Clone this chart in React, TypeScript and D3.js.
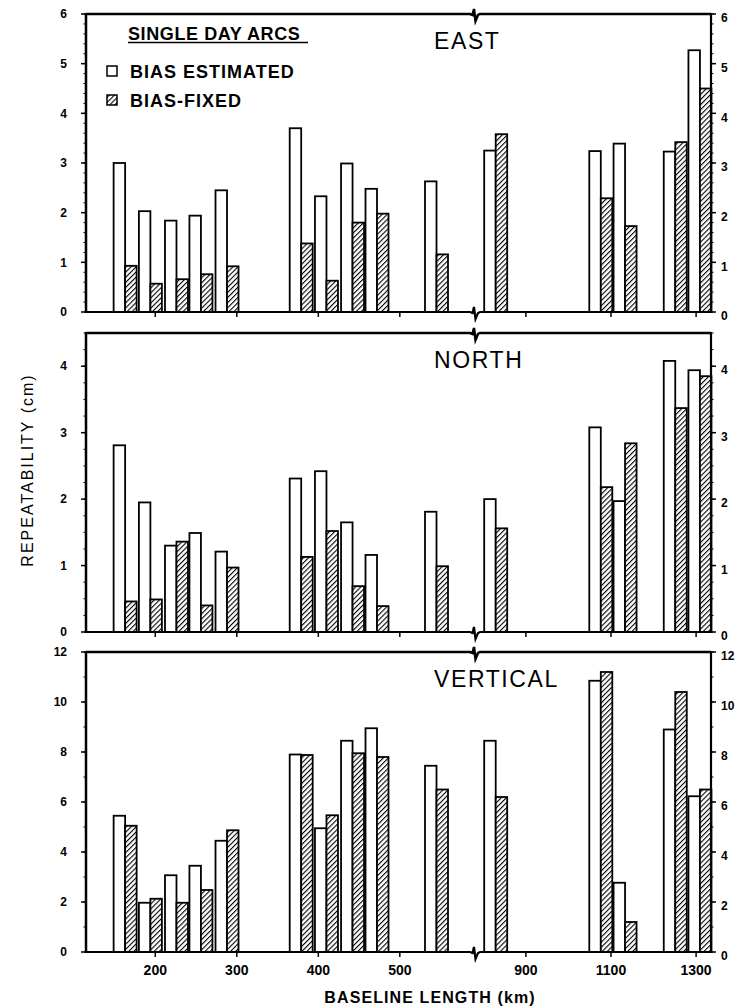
import React from 'react'
import * as d3 from 'd3'

// baseline length of each station pair (km)
const baselineKm = [163, 194, 226, 256, 288, 379, 410, 442, 472, 545, 829, 1076, 1133, 1251, 1309]

const eastEstimated = [3.0, 2.03, 1.84, 1.94, 2.45, 3.7, 2.33, 2.99, 2.48, 2.63, 3.25, 3.24, 3.39, 3.23, 5.27]
const eastFixed = [0.93, 0.57, 0.66, 0.76, 0.92, 1.38, 0.63, 1.8, 1.98, 1.16, 3.58, 2.29, 1.73, 3.42, 4.5]

const northEstimated = [2.81, 1.95, 1.3, 1.49, 1.21, 2.31, 2.42, 1.65, 1.16, 1.81, 2.0, 3.08, 1.97, 4.08, 3.94]
const northFixed = [0.46, 0.49, 1.36, 0.4, 0.97, 1.13, 1.52, 0.69, 0.39, 0.99, 1.56, 2.18, 2.84, 3.37, 3.85]

const verticalEstimated = [5.45, 1.97, 3.07, 3.45, 4.45, 7.9, 4.95, 8.45, 8.95, 7.45, 8.45, 10.85, 2.77, 8.9, 6.23]
const verticalFixed = [5.05, 2.13, 1.97, 2.48, 4.87, 7.88, 5.47, 7.95, 7.8, 6.5, 6.2, 11.2, 1.2, 10.4, 6.5]

const eastTicks = [0, 1, 2, 3, 4, 5, 6]
const northTicks = [0, 1, 2, 3, 4]
const verticalTicks = [0, 2, 4, 6, 8, 10, 12]
const xTicks = [200, 300, 400, 500, 900, 1100, 1300]

const legendTitle = 'SINGLE DAY ARCS'
const legendLabels = ['BIAS ESTIMATED', 'BIAS-FIXED']

const W = 736
const H = 1007
const left = 86
const right = 711
const breakX = 474
const barW = 11.5
const font = '"Liberation Sans", Arial, Helvetica, sans-serif'

// broken axis: 115-591 km on the left part, 778-1335 km on the right part
const x = d3.scaleLinear().domain([115, 591, 778, 1335]).range([left, breakX, breakX, right])

const panels = [
  { title: 'EAST', estimated: eastEstimated, fixed: eastFixed, ticks: eastTicks, max: 6, minor: 0.2, top: 14, bottom: 312 },
  { title: 'NORTH', estimated: northEstimated, fixed: northFixed, ticks: northTicks, max: 4.5, minor: 0.25, top: 333, bottom: 632 },
  { title: 'VERTICAL', estimated: verticalEstimated, fixed: verticalFixed, ticks: verticalTicks, max: 12, minor: 1, top: 652, bottom: 952 },
]

// line with the little break squiggle
const brokenLine = (y) =>
  `M${left},${y}H${breakX - 4}L${breakX - 1.5},${y + 1}L${breakX},${y - 5}L${breakX + 1.5},${y + 7}L${breakX + 4},${y + 1}L${breakX + 6},${y}H${right}`

function Panel({ p, showXLabels }) {
  const y = d3.scaleLinear().domain([0, p.max]).range([p.bottom, p.top])
  const minorTicks = d3.range(0, p.max + 1e-6, p.minor)
  return (
    <g>
      {baselineKm.map((km, i) => (
        <g key={i}>
          <rect
            x={x(km) - barW}
            y={y(p.estimated[i])}
            width={barW}
            height={y(0) - y(p.estimated[i])}
            fill="#fff"
            stroke="#000"
            strokeWidth={1.8}
          />
          <rect
            x={x(km)}
            y={y(p.fixed[i])}
            width={barW}
            height={y(0) - y(p.fixed[i])}
            fill="url(#hatch)"
            stroke="#000"
            strokeWidth={1.8}
          />
        </g>
      ))}

      <path d={brokenLine(p.top)} fill="none" stroke="#000" strokeWidth={2.5} />
      <path d={brokenLine(p.bottom)} fill="none" stroke="#000" strokeWidth={2.2} />
      <line x1={left} x2={left} y1={p.top - 1} y2={p.bottom + 1} stroke="#000" strokeWidth={2.5} />
      <line x1={right} x2={right} y1={p.top - 1} y2={p.bottom + 1} stroke="#000" strokeWidth={2.2} />

      {minorTicks.map((t, i) => (
        <g key={'m' + i}>
          <line x1={left - 2.5} x2={left} y1={y(t)} y2={y(t)} stroke="#000" strokeWidth={1} />
          <line x1={right} x2={right + 2.5} y1={y(t)} y2={y(t)} stroke="#000" strokeWidth={1} />
        </g>
      ))}
      {p.ticks.map((t) => (
        <g key={'t' + t} fontFamily={font} fontWeight="bold" fontSize={12}>
          <line x1={left - 5} x2={left} y1={y(t)} y2={y(t)} stroke="#000" strokeWidth={1.5} />
          <line x1={right} x2={right + 5} y1={y(t)} y2={y(t)} stroke="#000" strokeWidth={1.5} />
          <text x={left - 19} y={y(t)} dy="0.35em" textAnchor="end">{t}</text>
          <text x={right + 10} y={y(t) + 4} dy="0.35em" textAnchor="start">{t}</text>
        </g>
      ))}

      {xTicks.map((t) => (
        <g key={'x' + t}>
          <line x1={x(t)} x2={x(t)} y1={p.bottom} y2={p.bottom + 5} stroke="#000" strokeWidth={1.5} />
          {showXLabels && (
            <text x={x(t)} y={p.bottom + 23} textAnchor="middle" fontFamily={font} fontWeight="bold" fontSize={14}>
              {t}
            </text>
          )}
        </g>
      ))}

      <text x={434} y={p.top + 35} fontFamily={font} fontSize={23} letterSpacing={1.6}>
        {p.title}
      </text>
    </g>
  )
}

export default function App() {
  const east = panels[0]
  return (
    <svg
      width={W}
      height={H}
      viewBox={`0 0 ${W} ${H}`}
      style={{ position: 'absolute', left: 0, top: 0, background: '#fff' }}
    >
      <defs>
        <pattern id="hatch" patternUnits="userSpaceOnUse" width={3.6} height={3.6} patternTransform="rotate(45)">
          <rect width={3.6} height={3.6} fill="#fff" />
          <line x1={0} y1={0} x2={0} y2={3.6} stroke="#000" strokeWidth={2.2} />
        </pattern>
      </defs>
      <rect width={W} height={H} fill="#fff" />

      {panels.map((p, i) => (
        <Panel key={p.title} p={p} showXLabels={i === panels.length - 1} />
      ))}

      {/* legend inside the EAST panel */}
      <g fontFamily={font} fontWeight="bold">
        <text x={128} y={east.top + 26} fontSize={18} letterSpacing={0.6}>{legendTitle}</text>
        <line x1={128} x2={308} y1={east.top + 28.5} y2={east.top + 28.5} stroke="#000" strokeWidth={1.5} />
        {legendLabels.map((label, i) => (
          <g key={label}>
            <rect
              x={107}
              y={east.top + 52 + i * 29}
              width={10}
              height={10}
              fill={i === 0 ? '#fff' : 'url(#hatch)'}
              stroke="#000"
              strokeWidth={1.5}
            />
            <text x={130} y={east.top + 64 + i * 29} fontSize={18} letterSpacing={1}>{label}</text>
          </g>
        ))}
      </g>

      <text
        transform="translate(33,470) rotate(-90)"
        textAnchor="middle"
        fontFamily={font}
        fontSize={16}
        letterSpacing={2}
      >
        REPEATABILITY (cm)
      </text>
      <text x={430} y={1003} textAnchor="middle" fontFamily={font} fontWeight="bold" fontSize={16} letterSpacing={1.1}>
        BASELINE LENGTH (km)
      </text>
    </svg>
  )
}
